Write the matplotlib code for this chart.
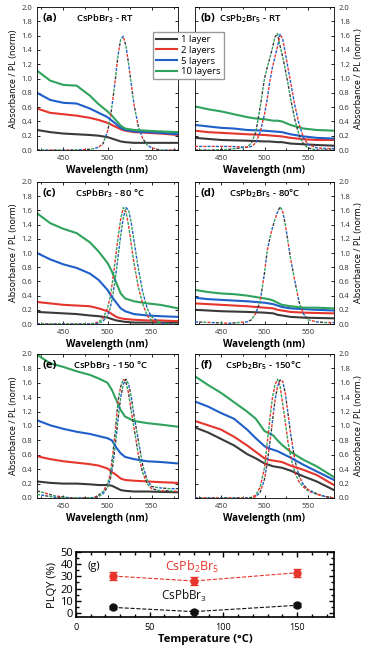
import numpy as np
import matplotlib
matplotlib.use("Agg")
import matplotlib.pyplot as plt
from matplotlib.lines import Line2D
from matplotlib.ticker import MultipleLocator

plt.rcParams['font.family'] = ['Open Sans', 'DejaVu Sans']
plt.rcParams['mathtext.default'] = 'regular'

# absorbance wavelength grid (nm)
WL = [420, 435, 450, 465, 480, 490, 500, 505, 510, 515, 520, 530, 545, 560, 580]
# PL wavelength grid (nm)
PL_WL = [420, 440, 460, 480, 485, 490, 495, 500, 503, 506, 509, 512, 515,
         518, 521, 524, 527, 530, 535, 540, 545, 550, 560, 570, 580]

layer_labels = ['1 layer', '2 layers', '5 layers', '10 layers']
layer_colors = ['#3a3a3a', '#e5352d', '#1f5fc8', '#2fa35c']

# (a) CsPbBr3 - RT
a_1 = [0.28, 0.25, 0.23, 0.22, 0.21, 0.20, 0.18, 0.16, 0.14, 0.12, 0.11, 0.10, 0.10, 0.10, 0.10]
a_2 = [0.58, 0.52, 0.50, 0.48, 0.45, 0.42, 0.38, 0.35, 0.32, 0.29, 0.27, 0.25, 0.24, 0.23, 0.21]
a_5 = [0.80, 0.70, 0.66, 0.65, 0.58, 0.52, 0.46, 0.41, 0.36, 0.31, 0.28, 0.26, 0.25, 0.24, 0.22]
a_10 = [1.11, 0.97, 0.91, 0.90, 0.76, 0.64, 0.54, 0.48, 0.41, 0.34, 0.30, 0.28, 0.27, 0.26, 0.25]
pl_a = [0, 0, 0, 0.01, 0.02, 0.04, 0.09, 0.26, 0.43, 0.70, 1.00, 1.33, 1.55,
        1.59, 1.45, 1.20, 0.92, 0.64, 0.33, 0.16, 0.07, 0.03, 0, 0, 0]

# (b) CsPb2Br5 - RT
b_1 = [0.17, 0.155, 0.14, 0.135, 0.13, 0.125, 0.12, 0.12, 0.115, 0.11, 0.11, 0.09, 0.08, 0.07, 0.06]
b_2 = [0.27, 0.25, 0.24, 0.23, 0.22, 0.215, 0.21, 0.205, 0.20, 0.195, 0.19, 0.17, 0.15, 0.14, 0.14]
b_5 = [0.35, 0.33, 0.31, 0.30, 0.28, 0.275, 0.27, 0.265, 0.26, 0.255, 0.25, 0.22, 0.19, 0.17, 0.16]
b_10 = [0.61, 0.57, 0.54, 0.50, 0.46, 0.44, 0.43, 0.42, 0.41, 0.41, 0.40, 0.35, 0.30, 0.28, 0.27]
pl_b1 = [0, 0, 0.01, 0.04, 0.10, 0.25, 0.60, 1.00, 1.15, 1.28, 1.42, 1.58, 1.63,
         1.45, 1.30, 1.12, 0.93, 0.72, 0.42, 0.20, 0.08, 0.03, 0, 0, 0]
pl_b2 = [0.05, 0.05, 0.05, 0.04, 0.05, 0.10, 0.25, 0.50, 0.70, 0.95, 1.15, 1.30, 1.45,
         1.62, 1.55, 1.35, 1.15, 0.95, 0.62, 0.35, 0.17, 0.08, 0.03, 0.02, 0.02]

# (c) CsPbBr3 - 80 C
c_1 = [0.17, 0.16, 0.15, 0.14, 0.12, 0.11, 0.09, 0.07, 0.05, 0.04, 0.03, 0.02, 0.02, 0.02, 0.02]
c_2 = [0.31, 0.29, 0.27, 0.26, 0.25, 0.22, 0.18, 0.14, 0.10, 0.08, 0.07, 0.06, 0.05, 0.05, 0.04]
c_5 = [1.00, 0.91, 0.84, 0.79, 0.71, 0.62, 0.48, 0.38, 0.30, 0.22, 0.18, 0.14, 0.12, 0.11, 0.10]
c_10 = [1.56, 1.42, 1.34, 1.28, 1.15, 1.02, 0.86, 0.74, 0.58, 0.43, 0.36, 0.32, 0.29, 0.27, 0.22]
pl_c1 = [0, 0, 0, 0, 0.01, 0.03, 0.08, 0.22, 0.38, 0.62, 0.92, 1.22, 1.48,
         1.64, 1.58, 1.38, 1.12, 0.86, 0.52, 0.28, 0.12, 0.05, 0.01, 0, 0]
pl_c2 = [0, 0, 0, 0, 0, 0.01, 0.04, 0.12, 0.22, 0.40, 0.65, 0.95, 1.25,
         1.50, 1.64, 1.60, 1.42, 1.18, 0.78, 0.45, 0.22, 0.10, 0.02, 0, 0]

# (d) CsPb2Br5 - 80 C
d_1 = [0.20, 0.19, 0.18, 0.175, 0.17, 0.165, 0.16, 0.155, 0.15, 0.13, 0.12, 0.10, 0.09, 0.085, 0.08]
d_2 = [0.29, 0.28, 0.27, 0.26, 0.25, 0.24, 0.23, 0.225, 0.22, 0.20, 0.19, 0.17, 0.16, 0.155, 0.15]
d_5 = [0.37, 0.35, 0.34, 0.33, 0.32, 0.31, 0.30, 0.29, 0.28, 0.26, 0.24, 0.22, 0.21, 0.20, 0.19]
d_10 = [0.48, 0.45, 0.43, 0.42, 0.40, 0.38, 0.36, 0.35, 0.33, 0.30, 0.27, 0.25, 0.23, 0.23, 0.22]
pl_d = [0.03, 0.02, 0.01, 0.03, 0.06, 0.15, 0.32, 0.72, 1.02, 1.20, 1.35, 1.47, 1.58,
        1.65, 1.58, 1.40, 1.16, 0.92, 0.60, 0.30, 0.14, 0.06, 0.03, 0.02, 0.02]

# (e) CsPbBr3 - 150 C
e_1 = [0.23, 0.21, 0.20, 0.20, 0.19, 0.18, 0.18, 0.17, 0.14, 0.11, 0.10, 0.09, 0.09, 0.085, 0.08]
e_2 = [0.58, 0.54, 0.51, 0.49, 0.47, 0.45, 0.41, 0.36, 0.32, 0.27, 0.25, 0.24, 0.23, 0.22, 0.21]
e_5 = [1.08, 1.01, 0.96, 0.92, 0.89, 0.86, 0.83, 0.80, 0.70, 0.62, 0.57, 0.54, 0.51, 0.50, 0.48]
e_10 = [1.99, 1.87, 1.82, 1.76, 1.71, 1.66, 1.60, 1.50, 1.36, 1.22, 1.13, 1.07, 1.04, 1.02, 0.99]
pl_e1 = [0.10, 0.03, 0, 0, 0.01, 0.04, 0.09, 0.20, 0.32, 0.60, 0.95, 1.35, 1.55,
         1.65, 1.60, 1.45, 1.20, 0.98, 0.60, 0.35, 0.20, 0.13, 0.10, 0.10, 0.09]
pl_e2 = [0.05, 0.01, 0, 0, 0, 0.02, 0.06, 0.15, 0.25, 0.45, 0.75, 1.10, 1.40,
         1.58, 1.65, 1.58, 1.40, 1.15, 0.80, 0.45, 0.25, 0.16, 0.14, 0.13, 0.13]

# (f) CsPb2Br5 - 150 C
f_1 = [0.98, 0.91, 0.82, 0.73, 0.61, 0.55, 0.48, 0.46, 0.44, 0.43, 0.42, 0.38, 0.30, 0.23, 0.11]
f_2 = [1.07, 1.01, 0.95, 0.85, 0.73, 0.64, 0.55, 0.53, 0.52, 0.51, 0.50, 0.45, 0.39, 0.32, 0.18]
f_5 = [1.34, 1.27, 1.18, 1.10, 0.95, 0.83, 0.72, 0.69, 0.67, 0.65, 0.62, 0.56, 0.46, 0.37, 0.25]
f_10 = [1.69, 1.57, 1.46, 1.33, 1.20, 1.10, 0.93, 0.90, 0.87, 0.80, 0.74, 0.64, 0.53, 0.44, 0.29]
pl_f1 = [0, 0, 0, 0, 0.01, 0.04, 0.15, 0.42, 0.75, 1.08, 1.38, 1.57, 1.65,
         1.55, 1.30, 1.05, 0.78, 0.58, 0.35, 0.22, 0.15, 0.10, 0.05, 0.02, 0]
pl_f2 = [0, 0, 0, 0, 0, 0.02, 0.08, 0.26, 0.48, 0.75, 1.05, 1.35, 1.55,
         1.64, 1.62, 1.45, 1.18, 0.90, 0.52, 0.30, 0.18, 0.12, 0.06, 0.02, 0]

# (g) PLQY vs temperature
temps = [25, 80, 150]
plqy_cspbbr3 = [4.6, 1.1, 6.3]
err_cspbbr3 = [1.5, 1.2, 1.5]
plqy_cspb2br5 = [30.3, 26.2, 33.0]
err_cspb2br5 = [3.2, 3.2, 3.2]

K, R, B, G = layer_colors
panels = [
    ('(a)', 'CsPbBr$_3$ - RT', 0.48, [a_1, a_2, a_5, a_10], [(pl_a, [K, R, B, G])]),
    ('(b)', 'CsPb$_2$Br$_5$ - RT', 0.40, [b_1, b_2, b_5, b_10], [(pl_b1, [K, G]), (pl_b2, [R, B])]),
    ('(c)', 'CsPbBr$_3$ - 80 °C', 0.52, [c_1, c_2, c_5, c_10], [(pl_c1, [R, G]), (pl_c2, [B, G])]),
    ('(d)', 'CsPb$_2$Br$_5$ - 80°C', 0.50, [d_1, d_2, d_5, d_10], [(pl_d, [B, R, G, K])]),
    ('(e)', 'CsPbBr$_3$ - 150 °C', 0.52, [e_1, e_2, e_5, e_10], [(pl_e1, [K, R, G]), (pl_e2, [G, K, B])]),
    ('(f)', 'CsPb$_2$Br$_5$ - 150°C', 0.49, [f_1, f_2, f_5, f_10], [(pl_f1, [R, G]), (pl_f2, [B, R, K])]),
]

# axes boxes in pixels: (left, top, right, bottom)
W, H = 370, 650
boxes = [(37, 7, 178, 150), (195, 7, 334, 150),
         (37, 182, 178, 324), (195, 182, 334, 324),
         (37, 354, 178, 498), (195, 354, 334, 498)]

fig = plt.figure(figsize=(3.7, 6.5), dpi=100)


def px_axes(l, t, r, b):
    return fig.add_axes([l / W, 1 - b / H, (r - l) / W, (b - t) / H])


def pl_line(ax, y, cols, dash=2.2, gap=0.8):
    n = len(cols)
    period = n * (dash + gap)
    for i, c in enumerate(cols):
        ax.plot(PL_WL, y, color=c, lw=1.0,
                linestyle=(i * (dash + gap), (dash, period - dash)), zorder=3)


for i, (tag, title, tx, absorb, pls) in enumerate(panels):
    ax = px_axes(*boxes[i])
    for y, c in zip(absorb, layer_colors):
        ax.plot(WL, y, color=c, lw=1.5, zorder=2)
    for y, cols in pls:
        pl_line(ax, y, cols)
    ax.set_xlim(420, 580)
    ax.set_ylim(0, 2.0)
    ax.xaxis.set_major_locator(MultipleLocator(50))
    ax.xaxis.set_minor_locator(MultipleLocator(25))
    ax.yaxis.set_major_locator(MultipleLocator(0.2))
    ax.tick_params(which='both', direction='in', top=True, right=True,
                   labelsize=5.5, labelcolor='#333333', width=0.6)
    ax.tick_params(which='major', length=2.5)
    ax.tick_params(which='minor', length=1.5)
    ax.yaxis.set_major_formatter(plt.FormatStrFormatter('%.1f'))
    for s in ax.spines.values():
        s.set_linewidth(0.6)
    ax.set_xlabel('Wavelength (nm)', fontsize=7, fontweight='bold', labelpad=2)
    if i % 2 == 1:
        ax.tick_params(labelleft=False, labelright=True)
        ax.yaxis.set_label_position('right')
        ax.set_ylabel('Absorbance / PL (norm.)', fontsize=6.5, labelpad=3)
    else:
        ax.set_ylabel('Absorbance / PL (norm)', fontsize=6.5, labelpad=2)
    ax.text(0.04, 0.92, tag, transform=ax.transAxes, fontsize=8,
            fontweight='bold', va='center', ha='left')
    ax.text(tx, 0.92, title, transform=ax.transAxes, fontsize=6.8,
            fontweight='semibold', va='center', ha='center')

handles = [Line2D([], [], color=c, lw=1.5) for c in layer_colors]
fig.legend(handles, layer_labels, loc='upper left',
           bbox_to_anchor=(153 / W, 1 - 32 / H), fontsize=6.8,
           fancybox=False, edgecolor='#999999', framealpha=1,
           handlelength=2.2, borderpad=0.3, labelspacing=0.2,
           handletextpad=0.5, borderaxespad=0)

# (g)
axg = px_axes(76, 552, 334, 617)
axg.errorbar(temps, plqy_cspb2br5, yerr=err_cspb2br5, fmt='o', color='#e5352d',
             ms=5, capsize=3, elinewidth=1, zorder=3)
axg.plot(temps, plqy_cspb2br5, '--', color='#e5352d', lw=0.8)
axg.errorbar(temps, plqy_cspbbr3, yerr=err_cspbbr3, fmt='o', color='#111111',
             ms=5, capsize=3, elinewidth=1, zorder=3)
axg.plot(temps, plqy_cspbbr3, '--', color='#111111', lw=0.8)
axg.set_xlim(0, 175)
axg.set_ylim(-3.3, 50)
axg.xaxis.set_major_locator(MultipleLocator(50))
axg.xaxis.set_minor_locator(MultipleLocator(10))
axg.yaxis.set_major_locator(MultipleLocator(10))
axg.yaxis.set_minor_locator(MultipleLocator(5))
axg.tick_params(which='both', direction='in', top=True, right=True, width=1.0)
axg.tick_params(which='major', length=3.5)
axg.tick_params(which='minor', length=2)
axg.tick_params(axis='y', labelsize=8, pad=2)
axg.tick_params(axis='x', labelsize=6.5, pad=4)
for s in axg.spines.values():
    s.set_linewidth(1.2)
axg.set_xlabel('Temperature (°C)', fontsize=8, fontweight='bold', labelpad=2)
axg.set_ylabel('PLQY (%)', fontsize=8, labelpad=2)
axg.text(7.5, 38, '(g)', fontsize=8, ha='left', va='center')
axg.text(79, 38, 'CsPb$_2$Br$_5$', color='#e5352d', fontsize=9, ha='center', va='center')
axg.text(73, 14, 'CsPbBr$_3$', color='#111111', fontsize=8.5, ha='center', va='center')

fig.savefig('out.png', dpi=100)
